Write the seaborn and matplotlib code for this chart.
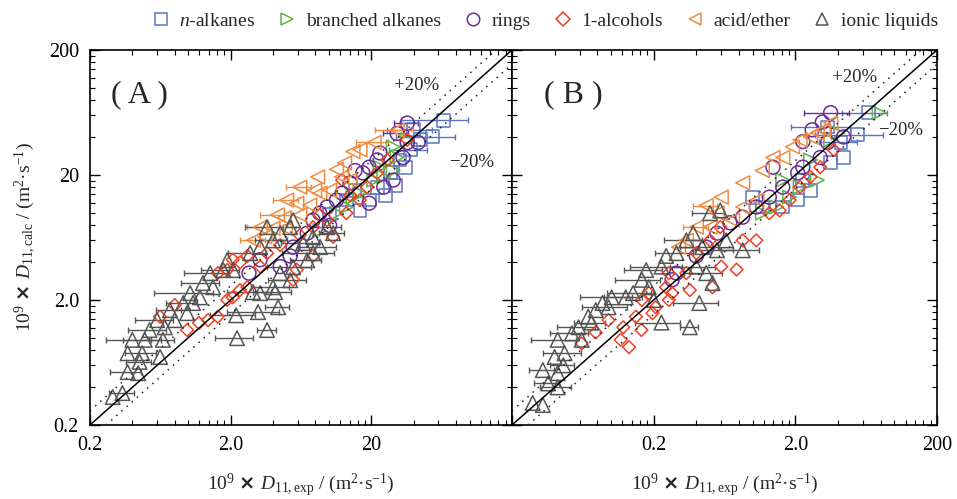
import numpy as np
import pandas as pd
import matplotlib
matplotlib.use("Agg")
import matplotlib.pyplot as plt
import seaborn as sns
from matplotlib.ticker import FixedLocator, FixedFormatter, NullFormatter
from matplotlib.lines import Line2D

# ---------------- data ----------------
# Panel A
alk_A_x = [65, 54.2, 39.9, 38, 35, 27.3, 22, 19.3, 16.6, 13.3, 32, 29.6, 25.2, 44.6, 10.1, 15.3]
alk_A_y = [54.8, 40.5, 46, 31.8, 23, 20.8, 16, 12.6, 10.4, 12.6, 26.4, 16.6, 13.8, 38.2, 9.6, 15.1]
alk_A_e = [0.5, 0.45, 0.35, 0.3, 0, 0, 0, 0, 0, 0, 0, 0, 0, 0, 0, 0]

br_A_x = [28.6, 36, 28.6, 23, 20.8, 16.6, 14.8, 13.3, 11.3, 8.6, 30.5, 24.5]
br_A_y = [33.6, 38.2, 21.7, 23.1, 18.2, 14.3, 13.3, 11.1, 9.9, 7.2, 27.6, 19.3]
br_A_e = [0] * 12

ring_A_x = [2.7, 3.24, 4.5, 5.3, 5.56, 7.0, 7.7, 8.6, 9.7, 11.3, 12.4, 14.1, 17.4, 19.3, 22,
            19.3, 24.5, 28.6, 33.6, 36, 23, 30.5, 36, 43, 15.3, 10.1]
ring_A_y = [3.28, 4.2, 3.7, 4.5, 5.3, 6.85, 8.7, 9.9, 11.1, 12.6, 14.3, 17.3, 20.8, 23.1, 26.4,
            11.9, 16, 18.2, 27.6, 36.4, 30, 43, 52, 36.4, 21.7, 7.9]
ring_A_e = [0] * 21 + [0.2, 0.2, 0, 0, 0]

alc_A_x = [0.63, 0.80, 0.98, 1.19, 1.38, 1.62, 1.89, 2.07, 2.33, 2.63, 1.62, 1.89, 2.07, 2.33, 2.63,
           3.24, 3.63, 5.56, 5.9, 7.7, 10.7, 7.7, 9.7, 13.3, 12.4, 16.6, 18.7, 22, 26, 36,
           6.2, 4.5, 8.6, 14.1]
alc_A_y = [1.47, 1.82, 1.15, 1.31, 1.38, 1.47, 2.0, 2.1, 2.4, 2.53, 3.28, 3.47, 4.2, 4.0, 4.5,
           3.7, 4.74, 2.9, 3.5, 4.5, 6.4, 7.65, 8.7, 9.9, 18.2, 12.6, 16, 20.8, 26.4, 38.2,
           6.6, 5.5, 9.6, 13.8]
alc_A_e = [0] * 34

acid_A_x = [30.5, 20.9, 16.6, 14.8, 12.9, 11.3, 8.3, 12.3, 6.2, 7.9, 8.6, 5.0, 5.9, 4.3, 4.8,
            3.24, 4.0, 4.9, 2.9, 3.5, 10.1, 14.1, 6.2, 7.3]
acid_A_y = [45.5, 36.4, 31.8, 30.8, 25, 22.2, 19.3, 19.3, 16, 15.1, 14.3, 12.6, 11.9, 9.6, 9.1,
            7.65, 7.5, 7.5, 6.0, 6.4, 15.1, 18.2, 9.6, 11.5]
acid_A_e = [0.3, 0.25, 0, 0, 0, 0, 0, 0, 0.2, 0, 0, 0.2, 0, 0.25, 0, 0.2, 0, 0, 0.2, 0, 0, 0, 0, 0]

ion_A_x = [0.29, 0.34, 0.37, 0.44, 0.45, 0.37, 0.47, 0.49, 0.40, 0.63, 0.66, 0.53, 0.68, 0.60, 0.80,
           0.74, 0.98, 0.92, 1.08, 1.03, 1.21, 1.27, 1.5, 1.43, 1.77, 2.08, 1.89, 2.75, 3.24, 4.0,
           4.5, 3.63, 5.3, 5.56, 6.55, 7.7, 8.65, 7.0, 5.56, 4.5, 5.3, 4.0, 3.24, 2.22, 3.63,
           2.19, 3.13, 4.35, 2.88, 4.14, 7.7, 10.7, 9.7]
ion_A_y = [0.335, 0.36, 0.53, 0.52, 0.64, 0.75, 0.75, 0.96, 0.96, 0.70, 0.96, 1.15, 1.21, 1.38, 1.38,
           1.66, 1.57, 1.89, 1.89, 2.27, 2.1, 2.73, 2.53, 3.28, 3.47, 3.47, 4.16, 4.74, 5.3, 6.0,
           6.85, 7.65, 7.65, 8.7, 5.7, 4.74, 5.3, 4.16, 3.66, 3.28, 2.88, 2.53, 2.27, 0.99, 1.15,
           1.51, 1.6, 1.75, 2.31, 2.31, 6.36, 6.85, 7.65]
ion_A_e = [0, 0.2, 0.25, 0, 0.2, 0, 0.25, 0.3, 0.35, 0, 0.2, 0.3, 0, 0.3, 0,
           0.2, 0, 0.25, 0, 0.45, 0, 0.3, 0, 0.35, 0.3, 0, 0, 0.3, 0, 0.25,
           0, 0.3, 0, 0, 0.3, 0.4, 0.3, 0.25, 0.35, 0, 0.3, 0.3, 0, 0.3, 0.15,
           0.35, 0.4, 0.2, 0.35, 0.3, 0, 0.2, 0.25]

# Panel B
alk_B_x = [66, 55, 43.8, 35.5, 33.8, 22.6, 20.8, 16.3, 11.7, 10, 42, 25.6]
alk_B_y = [63, 42, 27.6, 25, 48.5, 18.2, 12.6, 11.1, 11.1, 13.3, 36.4, 15.1]
alk_B_e = [0.35, 0.5, 0, 0, 0.45, 0, 0, 0, 0, 0, 0.3, 0]

br_B_x = [78, 28.6, 21.6, 18.2, 35.5, 40, 25.6, 14.8, 11.7, 16.3]
br_B_y = [63, 18.2, 16, 13.3, 38.2, 43.5, 26.4, 11.1, 9.9, 18.2]
br_B_e = [0] * 10

ring_B_x = [35.5, 31, 26.3, 22.6, 13.9, 43.8, 33.8, 30, 20.8, 16.3, 13.1, 10.6, 8.5, 6.9, 5.6,
            4.7, 4.0, 2.9, 2.7, 22.6]
ring_B_y = [63, 53, 46, 37, 23.1, 40.3, 36.4, 27.6, 20.8, 16, 13.3, 11.1, 9.2, 8.3, 6.85,
            5.3, 4.5, 3.28, 2.9, 23.1]
ring_B_e = [0.35, 0, 0, 0, 0, 0, 0, 0, 0, 0, 0, 0, 0, 0, 0, 0, 0, 0, 0, 0]

alc_B_x = [1.34, 1.17, 1.64, 0.62, 1.96, 2.07, 2.56, 2.7, 2.45, 2.56, 3.6, 3.4, 5.2, 7.7, 6.0,
           10.6, 8.5, 13.1, 15.5, 18.2, 21.6, 25.6, 30, 37.3, 5.0, 5.9, 4.0, 1.85, 1.65, 0.96,
           0.78, 1.5, 1.22]
alc_B_y = [0.84, 0.96, 1.15, 0.90, 1.57, 1.75, 2.0, 2.27, 2.53, 3.28, 2.4, 3.28, 2.53, 3.5, 3.7,
           6.0, 6.0, 9.9, 10.4, 12.6, 16, 19.3, 23.1, 31.8, 6.0, 7.65, 4.74, 2.27, 2.0, 1.38,
           1.10, 1.47, 1.21]
alc_B_e = [0] * 33

acid_B_x = [8.5, 6.0, 4.7, 11.7, 13.9, 16.3, 19.1, 21.6, 25.6, 28.6, 31.5, 35.5, 8.5, 10.7, 5.6,
            4.0, 3.4, 5.0, 7.2, 3.0]
acid_B_y = [17.3, 13.3, 11.4, 21.7, 27.6, 27.6, 33.6, 38.2, 40.3, 43.5, 46, 52, 11.1, 12.6, 9.9,
            7.65, 6.0, 7.65, 8.7, 5.3]
acid_B_e = [0, 0, 0.2, 0, 0, 0, 0, 0, 0, 0, 0, 0, 0, 0, 0, 0.2, 0, 0, 0, 0]

ion_B_x = [0.28, 0.33, 0.36, 0.42, 0.42, 0.46, 0.40, 0.47, 0.42, 0.62, 0.59, 0.73, 0.78, 0.96, 0.69,
           1.01, 1.27, 1.65, 1.85, 1.77, 2.27, 2.45, 2.9, 3.4, 3.8, 5.0, 5.9, 4.4, 5.6, 8.5,
           6.5, 4.0, 4.7, 5.2, 4.2, 2.27, 3.6, 2.0, 1.43, 0.87, 0.53, 0.33]
ion_B_y = [0.30, 0.289, 0.43, 0.40, 0.52, 0.60, 0.70, 0.75, 0.96, 0.96, 1.21, 1.32, 1.66, 1.75, 1.47,
           2.1, 2.1, 2.9, 2.53, 3.47, 3.7, 4.5, 4.74, 6.0, 6.85, 9.9, 10.4, 5.3, 5.0, 5.0,
           6.0, 3.7, 3.28, 2.73, 1.89, 1.32, 1.21, 2.0, 2.27, 1.89, 1.08, 0.55]
ion_B_e = [0, 0, 0.2, 0.25, 0, 0.2, 0, 0.3, 0.35, 0, 0.3, 0.25, 0, 0.35, 0,
           0.4, 0.3, 0.35, 0, 0.3, 0.4, 0, 0.3, 0.3, 0, 0.25, 0, 0.3, 0.3, 0.3,
           0, 0.35, 0.3, 0, 0.35, 0.35, 0.15, 0, 0.35, 0, 0.3, 0.2]

categories = ["n-alkanes", "branched alkanes", "rings", "1-alcohols", "acid/ether", "ionic liquids"]
legend_labels = [r"$\it{n}$-alkanes", "branched alkanes", "rings", "1-alcohols", "acid/ether", "ionic liquids"]
colors = ["#5a74c4", "#5fb346", "#6a2d9c", "#f2401f", "#f28a3e", "#555555"]
markers = ["s", ">", "o", "D", "<", "^"]
sizes = [85, 95, 100, 42, 100, 110]

x_tick_labels_A = ["0.2", "2.0", "20", ""]
x_tick_labels_B = ["", "0.2", "2.0", "200"]
y_tick_labels = ["0.2", "2.0", "20", "200"]

panel_A = [(alk_A_x, alk_A_y, alk_A_e), (br_A_x, br_A_y, br_A_e), (ring_A_x, ring_A_y, ring_A_e),
           (alc_A_x, alc_A_y, alc_A_e), (acid_A_x, acid_A_y, acid_A_e), (ion_A_x, ion_A_y, ion_A_e)]
panel_B = [(alk_B_x, alk_B_y, alk_B_e), (br_B_x, br_B_y, br_B_e), (ring_B_x, ring_B_y, ring_B_e),
           (alc_B_x, alc_B_y, alc_B_e), (acid_B_x, acid_B_y, acid_B_e), (ion_B_x, ion_B_y, ion_B_e)]

# ---------------- style ----------------
sns.set_style("ticks")
plt.rcParams["font.family"] = ["Liberation Serif", "DejaVu Serif"]
plt.rcParams["mathtext.fontset"] = "custom"
plt.rcParams["mathtext.rm"] = "Liberation Serif"
plt.rcParams["mathtext.it"] = "Liberation Serif:italic"
plt.rcParams["mathtext.bf"] = "Liberation Serif:bold"
plt.rcParams["mathtext.sf"] = "DejaVu Sans:bold"

fig = plt.figure(figsize=(9.57, 4.99), dpi=100)
axA = fig.add_axes([90 / 957, 74 / 499, 422 / 957, 375 / 499])
axB = fig.add_axes([512 / 957, 74 / 499, 425 / 957, 375 / 499])

major = [0.2, 2, 20, 200]
minor = [0.2 * k * 10 ** d for d in range(3) for k in range(2, 10)]

times_sign = r"$\mathsf{\times}$"


def draw(ax, panel, xlabels, show_y, tag, plus_pos, minus_pos, tag_x):
    ax.set_xscale("log")
    ax.set_yscale("log")
    ax.set_xlim(0.2, 200)
    ax.set_ylim(0.2, 200)
    for (x, y, e), col, m, s in zip(panel, colors, markers, sizes):
        x = np.asarray(x, float)
        y = np.asarray(y, float)
        e = np.asarray(e, float)
        msk = e > 0
        if msk.any():
            ax.errorbar(x[msk], y[msk], xerr=[x[msk] * e[msk], x[msk] * e[msk]], fmt="none",
                        ecolor=col, elinewidth=1.0, capsize=2.5, capthick=1.0, zorder=2)
        df = pd.DataFrame({"x": x, "y": y})
        sns.scatterplot(data=df, x="x", y="y", ax=ax, marker=m, s=s, color=col,
                        facecolor="none", edgecolor=col, linewidth=1.1, legend=False, zorder=3)
    ax.axline((1, 1), (10, 10), color="black", lw=1.1, zorder=4)
    ax.axline((1, 1.3), (10, 13), color="#222222", lw=1.1, ls=(0, (1, 3.5)), zorder=4)
    ax.axline((1, 1 / 1.3), (10, 10 / 1.3), color="#222222", lw=1.1, ls=(0, (1, 3.5)), zorder=4)

    ax.xaxis.set_major_locator(FixedLocator(major))
    ax.xaxis.set_major_formatter(FixedFormatter(xlabels))
    ax.yaxis.set_major_locator(FixedLocator(major))
    ax.xaxis.set_minor_locator(FixedLocator(minor))
    ax.yaxis.set_minor_locator(FixedLocator(minor))
    ax.xaxis.set_minor_formatter(NullFormatter())
    ax.yaxis.set_minor_formatter(NullFormatter())
    if show_y:
        ax.yaxis.set_major_formatter(FixedFormatter(y_tick_labels))
        ax.set_ylabel(r"$\mathregular{10^9}$ " + times_sign +
                      r" $\it{D}$$_{\mathregular{11,calc}}$ / (m$^{\mathregular{2}}$·s$^{\mathregular{-1}}$)",
                      fontsize=14, labelpad=8)
    else:
        ax.yaxis.set_major_formatter(NullFormatter())
        ax.set_ylabel("")
    ax.set_xlabel(r"$\mathregular{10^9}$ " + times_sign +
                  r" $\it{D}$$_{\mathregular{11,exp}}$ / (m$^{\mathregular{2}}$·s$^{\mathregular{-1}}$)",
                  fontsize=14, labelpad=12)
    ax.tick_params(which="both", direction="in", top=True, right=True, labelsize=14.5, colors="black")
    ax.tick_params(which="major", length=7, width=1, pad=8)
    ax.tick_params(which="minor", length=3.5, width=0.8)
    for sp in ax.spines.values():
        sp.set_visible(True)
        sp.set_color("black")
        sp.set_linewidth(1.2)
    ax.text(tag_x, 0.88, tag, transform=ax.transAxes, fontsize=23, va="center", ha="left")
    ax.text(plus_pos[0], plus_pos[1], "+20%", transform=ax.transAxes, fontsize=13.5, va="center", ha="center")
    ax.text(minus_pos[0], minus_pos[1], "\u221220%", transform=ax.transAxes, fontsize=13.5, va="center", ha="center")


draw(axA, panel_A, x_tick_labels_A, True, "( A )", (0.773, 0.905), (0.905, 0.70), 0.05)
draw(axB, panel_B, x_tick_labels_B, False, "( B )", (0.806, 0.928), (0.915, 0.785), 0.075)

handles = [Line2D([], [], ls="none", marker=m, mfc="none", mec=c, ms=(9 if m != "D" else 7), mew=1.1)
           for m, c in zip(markers, colors)]
fig.legend(handles, legend_labels, ncol=6, loc="upper center", bbox_to_anchor=(0.568, 1.01),
           frameon=False, fontsize=14, handletextpad=0.35, columnspacing=1.05, handlelength=1.2)

fig.savefig("out.png", dpi=100)
